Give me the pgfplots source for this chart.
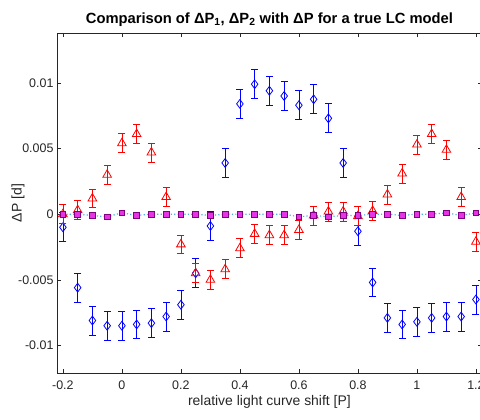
\documentclass[border=0pt]{standalone}
\usepackage{pgfplots}
\pgfplotsset{compat=1.18}
\usepackage{fontspec}
\setmainfont{Liberation Sans}
\definecolor{axgray}{rgb}{0.15,0.15,0.15}
\definecolor{sqfill}{rgb}{0.9,0.2,0.9}
\definecolor{sqedge}{rgb}{0.5,0,0.5}
\definecolor{dotblue}{rgb}{0.3,0.68,0.92}

% DeltaP1 (blue diamonds)
\pgfplotstableread{
x      y
-0.20 -0.0010
-0.15 -0.0056
-0.10 -0.0081
-0.05 -0.0085
 0.00 -0.0085
 0.05 -0.0084
 0.10 -0.0083
 0.15 -0.0078
 0.20 -0.0069
 0.25 -0.0045
 0.30 -0.0009
 0.35  0.0039
 0.40  0.0084
 0.45  0.0099
 0.50  0.0094
 0.55  0.0090
 0.60  0.0083
 0.65  0.00875
 0.70  0.0073
 0.75  0.0039
 0.80 -0.0013
 0.85 -0.0052
 0.90 -0.0079
 0.95 -0.0084
 1.00 -0.0082
 1.05 -0.0079
 1.10 -0.0078
 1.15 -0.0078
 1.20 -0.0065
}\dpone

% error bar ends of DeltaP1 (y -/+ 0.0011)
\pgfplotstableread{
x y
-0.20 -0.0021
-0.20 0.0001
nan nan
-0.15 -0.0067
-0.15 -0.0045
nan nan
-0.10 -0.0092
-0.10 -0.0070
nan nan
-0.05 -0.0096
-0.05 -0.0074
nan nan
0.00 -0.0096
0.00 -0.0074
nan nan
0.05 -0.0095
0.05 -0.0073
nan nan
0.10 -0.0094
0.10 -0.0072
nan nan
0.15 -0.0089
0.15 -0.0067
nan nan
0.20 -0.0080
0.20 -0.0058
nan nan
0.25 -0.0056
0.25 -0.0034
nan nan
0.30 -0.0020
0.30 0.0002
nan nan
0.35 0.0028
0.35 0.0050
nan nan
0.40 0.0073
0.40 0.0095
nan nan
0.45 0.0088
0.45 0.0110
nan nan
0.50 0.0083
0.50 0.0105
nan nan
0.55 0.0079
0.55 0.0101
nan nan
0.60 0.0072
0.60 0.0094
nan nan
0.65 0.00765
0.65 0.00985
nan nan
0.70 0.0062
0.70 0.0084
nan nan
0.75 0.0028
0.75 0.0050
nan nan
0.80 -0.0024
0.80 -0.0002
nan nan
0.85 -0.0063
0.85 -0.0041
nan nan
0.90 -0.0090
0.90 -0.0068
nan nan
0.95 -0.0095
0.95 -0.0073
nan nan
1.00 -0.0093
1.00 -0.0071
nan nan
1.05 -0.0090
1.05 -0.0068
nan nan
1.10 -0.0089
1.10 -0.0067
nan nan
1.15 -0.0089
1.15 -0.0067
nan nan
1.20 -0.0076
1.20 -0.0054
}\dponeerr

% DeltaP2 (red triangles)
\pgfplotstableread{
x      y
-0.20  0.0000
-0.15  0.0003
-0.10  0.0012
-0.05  0.0030
 0.00  0.0054
 0.05  0.0061
 0.10  0.0047
 0.15  0.0013
 0.20 -0.0023
 0.25 -0.0045
 0.30 -0.0050
 0.35 -0.0042
 0.40 -0.0026
 0.45 -0.0015
 0.50 -0.0016
 0.55 -0.0016
 0.60 -0.0012
 0.65 -0.0001
 0.70  0.0002
 0.75  0.0002
 0.80 -0.00015
 0.85  0.00025
 0.90  0.0015
 0.95  0.0031
 1.00  0.0053
 1.05  0.0061
 1.10  0.0049
 1.15  0.0013
 1.20 -0.0021
}\dptwo

% error bar ends of DeltaP2 (y -/+ 0.00072)
\pgfplotstableread{
x y
-0.20 -0.00072
-0.20 0.00072
nan nan
-0.15 -0.00042
-0.15 0.00102
nan nan
-0.10 0.00048
-0.10 0.00192
nan nan
-0.05 0.00228
-0.05 0.00372
nan nan
0.00 0.00468
0.00 0.00612
nan nan
0.05 0.00538
0.05 0.00682
nan nan
0.10 0.00398
0.10 0.00542
nan nan
0.15 0.00058
0.15 0.00202
nan nan
0.20 -0.00302
0.20 -0.00158
nan nan
0.25 -0.00522
0.25 -0.00378
nan nan
0.30 -0.00572
0.30 -0.00428
nan nan
0.35 -0.00492
0.35 -0.00348
nan nan
0.40 -0.00332
0.40 -0.00188
nan nan
0.45 -0.00222
0.45 -0.00078
nan nan
0.50 -0.00232
0.50 -0.00088
nan nan
0.55 -0.00232
0.55 -0.00088
nan nan
0.60 -0.00192
0.60 -0.00048
nan nan
0.65 -0.00082
0.65 0.00062
nan nan
0.70 -0.00052
0.70 0.00092
nan nan
0.75 -0.00052
0.75 0.00092
nan nan
0.80 -0.00087
0.80 0.00057
nan nan
0.85 -0.00047
0.85 0.00097
nan nan
0.90 0.00078
0.90 0.00222
nan nan
0.95 0.00238
0.95 0.00382
nan nan
1.00 0.00458
1.00 0.00602
nan nan
1.05 0.00538
1.05 0.00682
nan nan
1.10 0.00418
1.10 0.00562
nan nan
1.15 0.00058
1.15 0.00202
nan nan
1.20 -0.00282
1.20 -0.00138
}\dptwoerr

% DeltaP of the true model (magenta squares)
\pgfplotstableread{
x      y
-0.20  0.0000
-0.15  0.0000
-0.10 -0.0001
-0.05 -0.0002
 0.00  0.0001
 0.05 -0.0001
 0.10  0.0000
 0.15  0.0000
 0.20  0.0000
 0.25  0.0000
 0.30 -0.0001
 0.35  0.0000
 0.40  0.0000
 0.45  0.0000
 0.50  0.0000
 0.55  0.0000
 0.60 -0.0002
 0.65 -0.0001
 0.70 -0.0002
 0.75 -0.0001
 0.80 -0.0001
 0.85  0.0000
 0.90  0.0000
 0.95 -0.0001
 1.00  0.0000
 1.05  0.0000
 1.10  0.0001
 1.15 -0.0001
 1.20  0.0001
}\dptrue

\begin{document}
\begin{tikzpicture}[x=1bp,y=1bp]
\useasboundingbox (0,0) rectangle (480,419);
\begin{axis}[
  at={(57bp,46bp)}, anchor=south west,
  scale only axis,
  width=424.8bp, height=340bp,
  xmin=-0.22, xmax=1.22,
  ymin=-0.0121, ymax=0.0138,
  axis line style={axgray},
  tick style={axgray},
  tick align=inside,
  major tick length=4bp,
  xtick={-0.2,0,0.2,0.4,0.6,0.8,1,1.2},
  xticklabels={-0.2,0,0.2,0.4,0.6,0.8,1,1.2},
  ytick={-0.01,-0.005,0,0.005,0.01},
  yticklabels={-0.01,-0.005,0,0.005,0.01},
  scaled y ticks=false,
  tick label style={font=\fontsize{12.5}{14}\selectfont, text=axgray},
  xticklabel style={yshift=-4bp},
  title={\textbf{Comparison of ΔP\textsubscript{1}, ΔP\textsubscript{2} with ΔP for a true LC model}},
  title style={font=\fontsize{14.8}{16}\selectfont, yshift=-3bp},
  unbounded coords=jump,
  clip=false,
]
\addplot[draw=blue, line width=0.8pt, mark=-, mark size=3.5bp,
  mark options={draw=blue, line width=0.8pt}]
  table[x=x, y=y] {\dponeerr};
\addplot[blue, only marks, mark=diamond, mark size=4.4bp, thick]
  table[x=x, y=y] {\dpone};
\addplot[draw=red, line width=0.8pt, mark=-, mark size=3.5bp,
  mark options={draw=red, line width=0.8pt}]
  table[x=x, y=y] {\dptwoerr};
\addplot[red, only marks, mark=triangle, mark size=5bp, thick]
  table[x=x, y=y] {\dptwo};
\addplot[draw=dotblue, line width=1.2bp, dash pattern=on 1.2bp off 2.2bp,
  mark=square*, mark size=2.8bp,
  mark options={solid, fill=sqfill, draw=sqedge, thick}]
  table[x=x, y=y] {\dptrue};
\node[font=\fontsize{14}{16}\selectfont, text=axgray, rotate=90]
  at (axis description cs:-0.092,0.5) {ΔP [d]};
\node[font=\fontsize{14}{16}\selectfont, text=axgray]
  at (axis description cs:0.5,-0.085) {relative light curve shift [P]};
\end{axis}
\end{tikzpicture}
\end{document}
